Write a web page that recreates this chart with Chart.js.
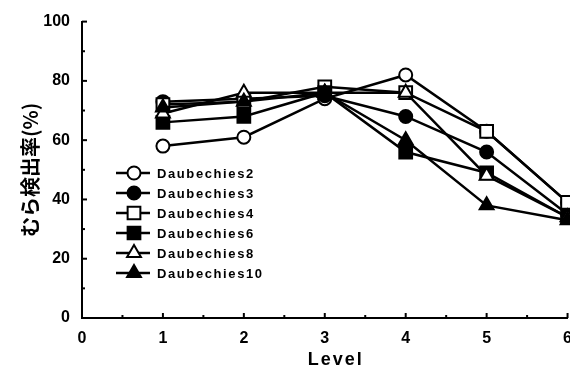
<!DOCTYPE html>
<html>
<head>
<meta charset="utf-8">
<script src="https://cdn.jsdelivr.net/npm/chart.js@4.4.0/dist/chart.umd.min.js"></script>
<style>
  html, body { margin: 0; padding: 0; background: #fff; overflow: hidden; }
  #wrap { width: 583px; height: 370px; }
</style>
</head>
<body>
<div id="wrap"><canvas id="lineChart"></canvas></div>
<script>
// data
const levels = [1, 2, 3, 4, 5, 6];
const names = ['Daubechies2', 'Daubechies3', 'Daubechies4', 'Daubechies6', 'Daubechies8', 'Daubechies10'];
const d2 = [58, 61, 74, 82, 63, 39];
const d3 = [73, 74, 75, 68, 56, 35];
const d4 = [72, 73, 78, 76, 63, 39];
const d6 = [66, 68, 76, 56, 49, 34];
const d8 = [69, 76, 76, 76, 48, 34];
const d10 = [71, 73, 76, 60, 38, 33];
const xTicks = [0, 1, 2, 3, 4, 5, 6];
const yTicks = [0, 20, 40, 60, 80, 100];
const xTitle = 'Level';
const yTitle = 'むら検出率(%)';

const series = [d2, d3, d4, d6, d8, d10];
const shapes = ['circle', 'circle', 'rect', 'rect', 'triangle', 'triangle'];
const fills = ['#fff', '#000', '#fff', '#000', '#fff', '#000'];
const radii = [6.5, 6.5, 9, 9, 8, 8];

const datasets = series.map((vals, i) => ({
  label: names[i],
  data: levels.map((x, j) => ({ x: x, y: vals[j] })),
  borderColor: '#000',
  borderWidth: 2.5,
  pointStyle: shapes[i],
  pointBackgroundColor: fills[i],
  pointBorderColor: '#000',
  pointBorderWidth: 2,
  pointRadius: radii[i],
  fill: false,
  tension: 0,
  clip: false,
  order: series.length - i
}));

// inward ticks on both axes (major + minor) and the spaced x title
const innerTicks = {
  id: 'innerTicks',
  afterDraw(chart) {
    const ctx = chart.ctx;
    const xs = chart.scales.x, ys = chart.scales.y;
    const left = chart.chartArea.left, bottom = chart.chartArea.bottom;
    ctx.save();
    ctx.strokeStyle = '#000';
    ctx.lineWidth = 2;
    for (let v = 0; v <= 100; v += 10) {
      const y = ys.getPixelForValue(v);
      const len = v % 20 === 0 ? 5 : 3;
      ctx.beginPath(); ctx.moveTo(left, y); ctx.lineTo(left + len, y); ctx.stroke();
    }
    for (let v = 0; v <= 6; v += 0.5) {
      const x = xs.getPixelForValue(v);
      const len = v % 1 === 0 ? 5 : 3;
      ctx.beginPath(); ctx.moveTo(x, bottom); ctx.lineTo(x, bottom - len); ctx.stroke();
    }
    ctx.font = 'bold 18px "Liberation Sans", Arial, sans-serif';
    ctx.letterSpacing = '2px';
    ctx.fillStyle = '#000';
    ctx.textAlign = 'center';
    ctx.textBaseline = 'middle';
    ctx.fillText(xTitle, (chart.chartArea.left + chart.chartArea.right) / 2 + 11, 360);
    ctx.restore();
  }
};

// legend drawn inside the plot, lower left
const innerLegend = {
  id: 'innerLegend',
  afterDraw(chart) {
    const ctx = chart.ctx;
    const x0 = 116, x1 = 150, xm = 134, xt = 157;
    let y = 173;
    ctx.save();
    ctx.font = 'bold 13px "Liberation Sans", Arial, sans-serif';
    ctx.letterSpacing = '1.6px';
    ctx.textBaseline = 'middle';
    chart.data.datasets.forEach(ds => {
      ctx.strokeStyle = '#000';
      ctx.lineWidth = 2.5;
      ctx.beginPath(); ctx.moveTo(x0, y); ctx.lineTo(x1, y); ctx.stroke();
      ctx.fillStyle = ds.pointBackgroundColor;
      ctx.lineWidth = 2;
      Chart.helpers.drawPoint(ctx, { pointStyle: ds.pointStyle, radius: ds.pointRadius, borderWidth: 2, rotation: 0 }, xm, y);
      ctx.fillStyle = '#000';
      ctx.fillText(ds.label, xt, y + 1);
      y += 20;
    });
    ctx.restore();
  }
};

new Chart('lineChart', {
  type: 'line',
  data: { datasets: datasets },
  plugins: [innerTicks, innerLegend],
  options: {
    responsive: true,
    maintainAspectRatio: false,
    animation: false,
    layout: { padding: { top: 5, right: 0, left: 0, bottom: 0 } },
    plugins: { legend: { display: false }, tooltip: { enabled: false } },
    scales: {
      x: {
        type: 'linear',
        min: 0, max: 6,
        afterBuildTicks: s => { s.ticks = xTicks.map(v => ({ value: v })); },
        afterFit: s => { s.height = 52; },
        grid: { display: true, drawOnChartArea: false, drawTicks: false },
        border: { display: true, color: '#000', width: 2 },
        ticks: { color: '#000', padding: 11, maxRotation: 0, font: { family: '"Liberation Sans", Arial, sans-serif', size: 16, weight: 'bold' } },
        title: { display: false }
      },
      y: {
        min: 0, max: 100,
        afterBuildTicks: s => { s.ticks = yTicks.map(v => ({ value: v })); },
        afterFit: s => { s.width = 82; },
        grid: { display: true, drawOnChartArea: false, drawTicks: false },
        border: { display: true, color: '#000', width: 2 },
        ticks: { color: '#000', padding: 12, font: { family: '"Liberation Sans", Arial, sans-serif', size: 16, weight: 'bold' } },
        title: { display: true, text: yTitle, color: '#000', padding: { top: 18, bottom: 0 }, font: { family: '"Noto Sans CJK JP", sans-serif', size: 20, weight: 'bold' } }
      }
    }
  }
});
</script>
</body>
</html>
